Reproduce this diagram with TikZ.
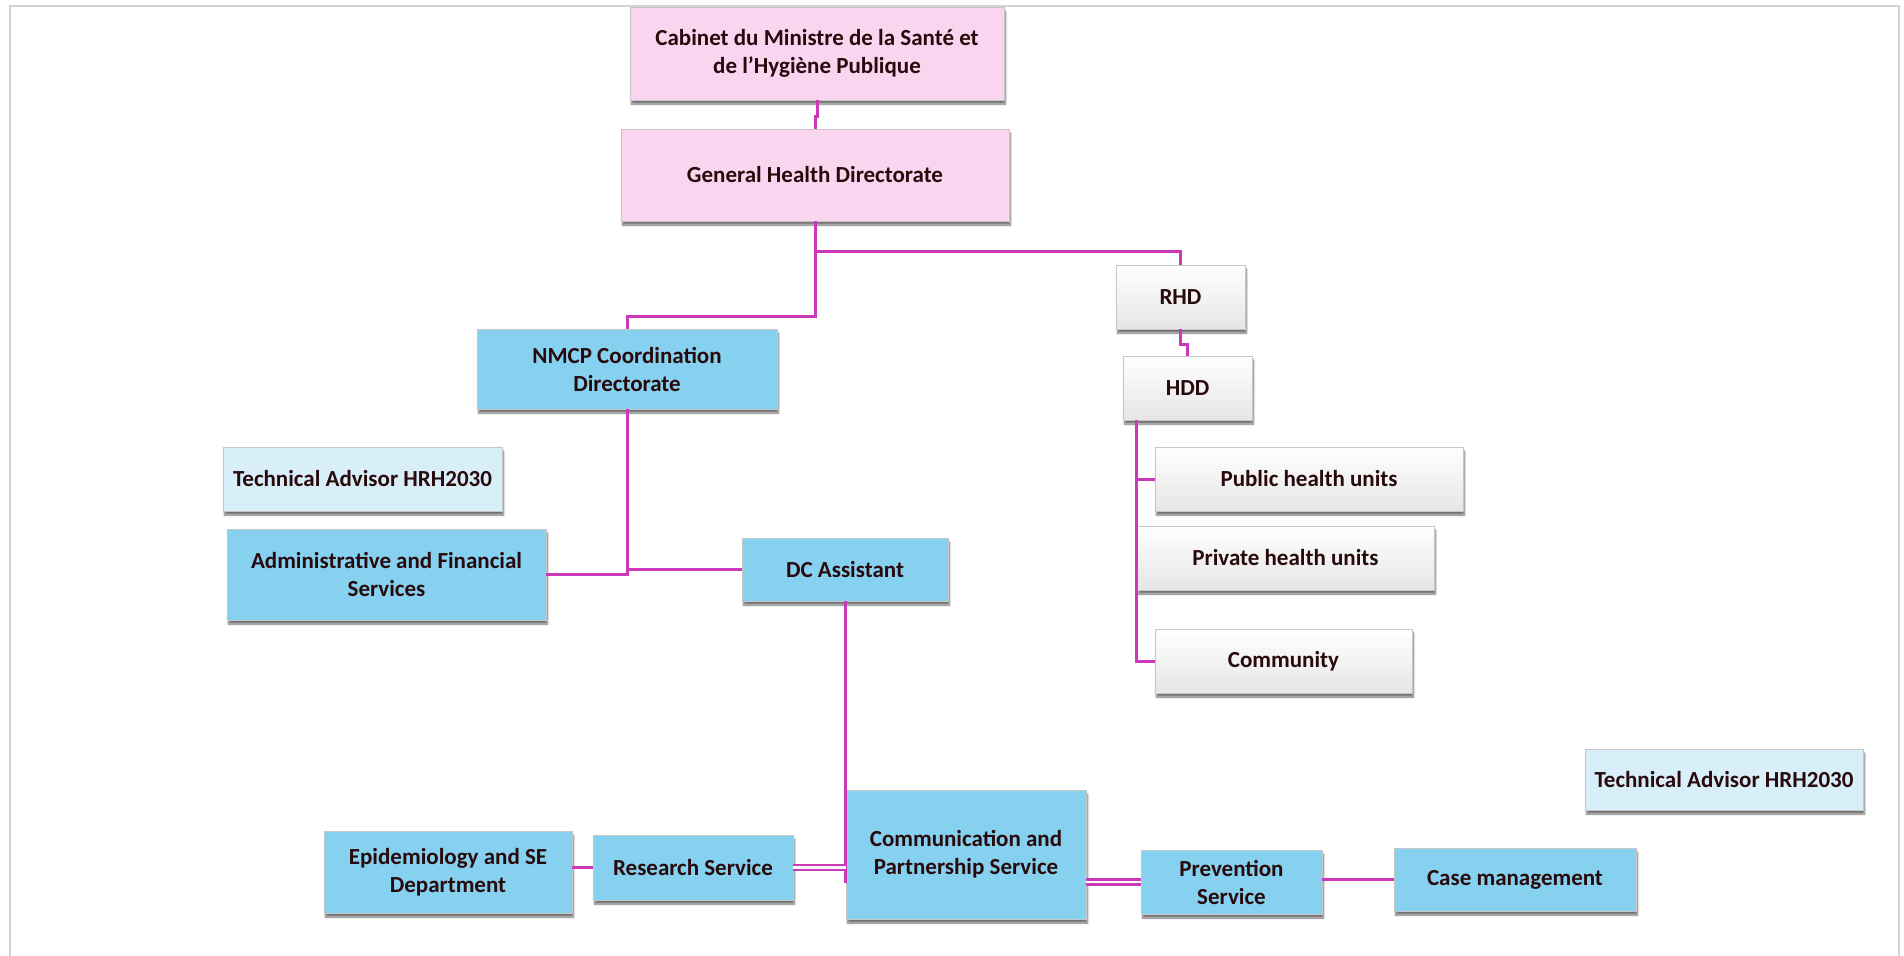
\documentclass[tikz,border=0pt]{standalone}
\usepackage{fontspec}
\setmainfont{Carlito}
\usepackage{xcolor}
\usepackage{tikz}
\usetikzlibrary{calc,shadows.blur}

\definecolor{orgpink}{RGB}{249,213,240}
\definecolor{orgblue}{RGB}{133,209,239}
\definecolor{orgpale}{RGB}{216,238,248}
\definecolor{orglink}{RGB}{204,56,184}
\definecolor{orgtext}{RGB}{40,10,12}

\begin{document}
\begin{tikzpicture}[x=1pt,y=-1pt,
    box/.style={draw=gray!45, line width=0.8pt, inner sep=0pt, align=center,
        text=orgtext, font=\fontsize{23}{28}\selectfont\bfseries,
        blur shadow={shadow xshift=1.5pt, shadow yshift=-4pt, shadow blur steps=6, shadow opacity=55}},
    pinkbox/.style={box, fill=orgpink},
    bluebox/.style={box, fill=orgblue},
    palebox/.style={box, fill=orgpale},
    greybox/.style={box, top color=white, bottom color=gray!20},
    link/.style={orglink, line width=3pt},
    dlink/.style={orglink, line width=2.5pt, double=white, double distance=2.5pt}]

                \useasboundingbox (0,0) rectangle (1904,956);
                \draw[gray!35, line width=2pt] (10,956) -- (10,6) -- (1899,6) -- (1899,956);

                \node[pinkbox, minimum width=374pt, minimum height=93pt] (cab) at (817,53.5)
                    {Cabinet du Ministre de la Santé et\\de l’Hygiène Publique};
                \node[pinkbox, minimum width=388pt, minimum height=92pt] (ghd) at (815,175)
                    {General Health Directorate};

                \node[greybox, minimum width=129pt, minimum height=64pt] (rhd) at (1180.5,297) {RHD};
                \node[greybox, minimum width=129pt, minimum height=64pt] (hdd) at (1187.5,388) {HDD};
                \node[greybox, minimum width=308pt, minimum height=64pt] (pub) at (1309,479) {Public health units};
                \node[greybox, minimum width=297pt, minimum height=64pt] (priv) at (1285.5,558) {Private health units};
                \node[greybox, minimum width=257pt, minimum height=64pt] (cmty) at (1283.5,661) {Community};

                \node[bluebox, minimum width=300pt, minimum height=80pt] (nmcp) at (627,369)
                    {NMCP Coordination\\Directorate};
                \node[palebox, minimum width=279pt, minimum height=64pt] (advA) at (362.5,479)
                    {Technical Advisor HRH2030};
                \node[bluebox, minimum width=319pt, minimum height=91pt] (adm) at (386.5,574.5)
                    {Administrative and Financial\\Services};
                \node[bluebox, minimum width=206pt, minimum height=63pt] (dca) at (845,569.5) {DC Assistant};

                \node[palebox, minimum width=278pt, minimum height=61pt] (advB) at (1724,779.5)
                    {Technical Advisor HRH2030};

                \node[bluebox, minimum width=248pt, minimum height=82pt] (epi) at (448,872)
                    {Epidemiology and SE\\Department};
                \node[bluebox, minimum width=200pt, minimum height=65pt] (res) at (693,867.5) {Research Service};
                \node[bluebox, minimum width=240pt, minimum height=129pt] (cps) at (966,854.5)
                    {Communication and\\Partnership Service};
                \node[bluebox, minimum width=181pt, minimum height=64pt] (prev) at (1231.5,882)
                    {Prevention\\Service};
                \node[bluebox, minimum width=242pt, minimum height=63pt] (cmgt) at (1515,879.5) {Case management};

                \draw[link] (cab.south) -- ++(0,16) -| (ghd.north);
                \draw[link] (ghd.south) -- ++(0,30) coordinate (split) -| (rhd.north);
                \draw[link] (split) -- ++(0,65) -| (nmcp.north);
                \draw[link] (rhd.south) -- ++(0,15) -| (hdd.north);

                \draw[link] (hdd.south -| priv.west) |- (cmty.west);
                \draw[link] (pub.west -| priv.west) -- (pub.west);

                \draw[link] (nmcp.south) |- (adm.east);
                \draw[link] (nmcp.south |- dca.west) -- (dca.west);

                \coordinate (dcend) at (845,883);
                \draw[link] (dca.south) -- (dcend);

                \draw[link] (epi.east |- res.west) -- (res.west);
                \draw[dlink] (res.east) -- (res.east -| cps.west);
                \draw[dlink] (prev.west -| cps.east) -- (prev.west);
                \draw[link] (cmgt.west -| prev.east) -- (cmgt.west);

            \end{tikzpicture}
\end{document}
